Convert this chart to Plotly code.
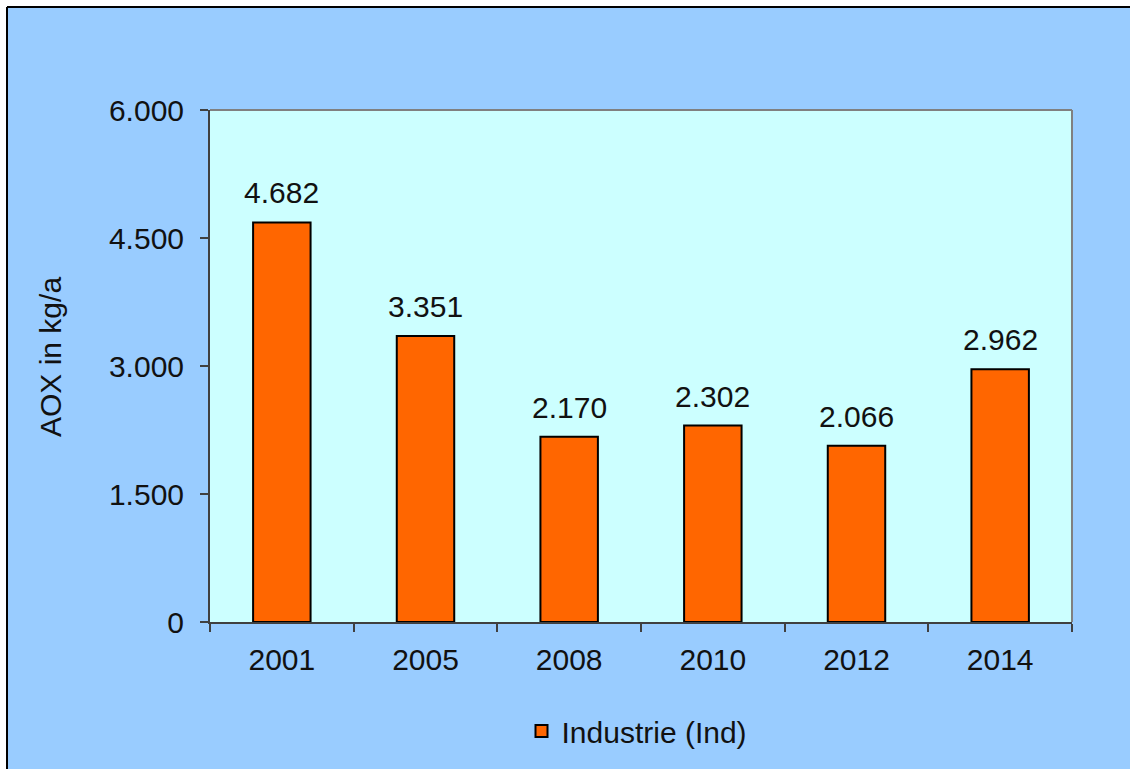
import plotly.graph_objects as go

years = ["2001", "2005", "2008", "2010", "2012", "2014"]
values = [4682, 3351, 2170, 2302, 2066, 2962]
y_ticks = [0, 1500, 3000, 4500, 6000]
series_name = "Industrie (Ind)"
y_title = "AOX in kg/a"

FONT = "Liberation Sans, Arial, sans-serif"
W, H = 1130, 769
# plot area in page pixels
L, R, T, B = 210, 1072, 110, 622
EDGE = 7  # outer frame line position

def px_x(p):
    return (p - L) / (R - L)

def px_y(p):
    return (B - p) / (B - T)

fig = go.Figure()
fig.add_trace(go.Bar(
    x=years, y=values, name=series_name,
    marker=dict(color="#FF6600", line=dict(color="#000000", width=2)),
    showlegend=True,
))

for i, v in enumerate(values):
    fig.add_annotation(
        x=i, y=v, xref="x", yref="y",
        text=f"{v:,}".replace(",", "."),
        showarrow=False, yanchor="bottom", yshift=11,
        font=dict(family=FONT, size=30, color="#111111"),
    )

fig.add_annotation(
    x=px_x(50), y=px_y(357), xref="paper", yref="paper",
    text=y_title, textangle=-90, showarrow=False,
    xanchor="center", yanchor="middle",
    font=dict(family=FONT, size=30, color="#111111"),
)

# white strips outside the outer frame
fig.add_shape(type="rect", xref="paper", yref="paper", layer="below",
              x0=px_x(-5), x1=px_x(EDGE), y0=px_y(H + 5), y1=px_y(-5),
              fillcolor="#FFFFFF", line=dict(width=0))
fig.add_shape(type="rect", xref="paper", yref="paper", layer="below",
              x0=px_x(-5), x1=px_x(W + 5), y0=px_y(EDGE), y1=px_y(-5),
              fillcolor="#FFFFFF", line=dict(width=0))
# outer black frame (top/left)
fig.add_shape(type="line", xref="paper", yref="paper", layer="below",
              x0=px_x(EDGE), x1=px_x(EDGE), y0=px_y(H + 5), y1=px_y(EDGE),
              line=dict(color="#000000", width=2))
fig.add_shape(type="line", xref="paper", yref="paper", layer="below",
              x0=px_x(EDGE), x1=px_x(W + 5), y0=px_y(EDGE), y1=px_y(EDGE),
              line=dict(color="#000000", width=2))
# plot area border top/right
fig.add_shape(type="line", xref="paper", yref="paper", x0=0, x1=1, y0=1, y1=1,
              line=dict(color="#808080", width=2))
fig.add_shape(type="line", xref="paper", yref="paper", x0=1, x1=1, y0=0, y1=1,
              line=dict(color="#808080", width=2))

fig.update_layout(
    width=W, height=H,
    margin=dict(l=L, r=W - R, t=T, b=H - B, pad=0),
    paper_bgcolor="#99CCFF",
    plot_bgcolor="#CCFFFF",
    separators=",.",
    bargap=0.6,
    font=dict(family=FONT, size=30, color="#111111"),
    showlegend=True,
    legend=dict(
        orientation="h", x=px_x(637), xanchor="center", y=px_y(731), yanchor="middle",
        bgcolor="rgba(0,0,0,0)", font=dict(family=FONT, size=30, color="#111111"),
        itemwidth=30,
    ),
    xaxis=dict(
        type="category", range=[-0.5, len(years) - 0.5],
        showgrid=False, zeroline=False,
        showline=True, linecolor="#404040", linewidth=2,
        ticks="outside", ticklen=8, tickwidth=2, tickcolor="#404040",
        tickson="boundaries", ticklabelstandoff=10, tickangle=0,
        tickfont=dict(family=FONT, size=30, color="#111111"),
    ),
    yaxis=dict(
        range=[0, 6000], tickvals=y_ticks, tickformat=",d",
        showgrid=False, zeroline=False,
        showline=True, linecolor="#404040", linewidth=2,
        ticks="outside", ticklen=8, tickwidth=2, tickcolor="#404040",
        ticklabelstandoff=10,
        tickfont=dict(family=FONT, size=30, color="#111111"),
    ),
)

fig.write_html(
    "out.html",
    config={"displayModeBar": False},
    post_script="document.body.style.margin='0';"
                "document.documentElement.style.overflow='hidden';"
                "document.body.style.overflow='hidden';",
)
